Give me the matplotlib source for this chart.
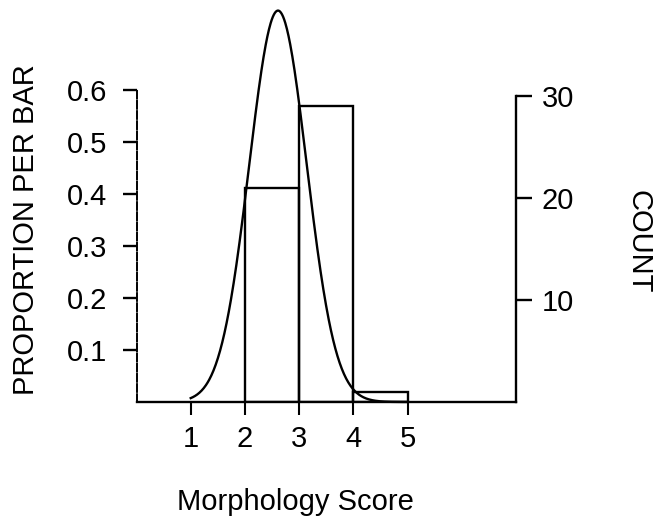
import numpy as np
import matplotlib
matplotlib.use("Agg")
import matplotlib.pyplot as plt

plt.rcParams["font.family"] = ["Liberation Sans", "DejaVu Sans"]

# histogram of morphology scores (bins of width 1)
bin_left = [2, 3, 4]
counts = [21, 29, 1]
n_total = sum(counts)

# fitted normal curve
curve_mean = 2.61
curve_sd = 0.53
curve_range = (1.0, 5.0)

prop_ticks = [0.1, 0.2, 0.3, 0.4, 0.5, 0.6]
count_ticks = [10, 20, 30]
x_ticks = [1, 2, 3, 4, 5]

FS = 21
W, H = 659, 523
fig = plt.figure(figsize=(W / 100, H / 100), dpi=100)

x0, x1 = 136.5, 516.0
y_base = 402.0
px_per_unit = 520.0
ax = fig.add_axes([x0 / W, (H - y_base) / H, (x1 - x0) / W, y_base / H])
ax.set_xlim(0, 7)
ax.set_ylim(0, y_base / px_per_unit)

proportions = [c / n_total for c in counts]
ax.bar(bin_left, proportions, width=1, align="edge", fill=False,
       edgecolor="black", linewidth=1.7, zorder=3)

xs = np.linspace(curve_range[0], curve_range[1], 400)
ys = np.exp(-0.5 * ((xs - curve_mean) / curve_sd) ** 2) / (curve_sd * np.sqrt(2 * np.pi))
ax.plot(xs, ys, color="black", linewidth=1.7, clip_on=False, zorder=4)

ax.spines["top"].set_visible(False)
ax.spines["right"].set_visible(False)
ax.spines["left"].set_bounds(0, 0.6)
ax.spines["left"].set_linewidth(1.4)
ax.spines["left"].set_linestyle((0, (4, 1.2)))
ax.spines["bottom"].set_linewidth(1.7)

ax.set_yticks(prop_ticks)
ax.set_yticklabels([f"{t:.1f}" for t in prop_ticks], fontsize=FS)
ax.tick_params(axis="y", direction="out", length=10, width=1.7, pad=11)
ax.set_xticks(x_ticks)
ax.set_xticklabels([str(t) for t in x_ticks], fontsize=FS)
ax.tick_params(axis="x", direction="out", length=9.5, width=1.5, pad=7)

# count scale on the right
ax2 = ax.twinx()
ax2.set_ylim(0, y_base / px_per_unit * n_total)
for side in ["top", "left", "bottom"]:
    ax2.spines[side].set_visible(False)
ax2.spines["right"].set_bounds(0, 30)
ax2.spines["right"].set_linewidth(1.7)
ax2.set_yticks(count_ticks)
ax2.set_yticklabels([str(t) for t in count_ticks], fontsize=FS)
ax2.tick_params(axis="y", direction="out", length=11.5, width=1.7, pad=7)

fig.text(26 / W, 1 - 230 / H, "PROPORTION PER BAR", rotation=90,
         ha="center", va="center", fontsize=FS)
fig.text(639 / W, 1 - 242 / H, "COUNT", rotation=270,
         ha="center", va="center", fontsize=FS)
fig.text(295 / W, 1 - 502 / H, "Morphology Score",
         ha="center", va="center", fontsize=FS)

fig.savefig("out.png", dpi=100)
